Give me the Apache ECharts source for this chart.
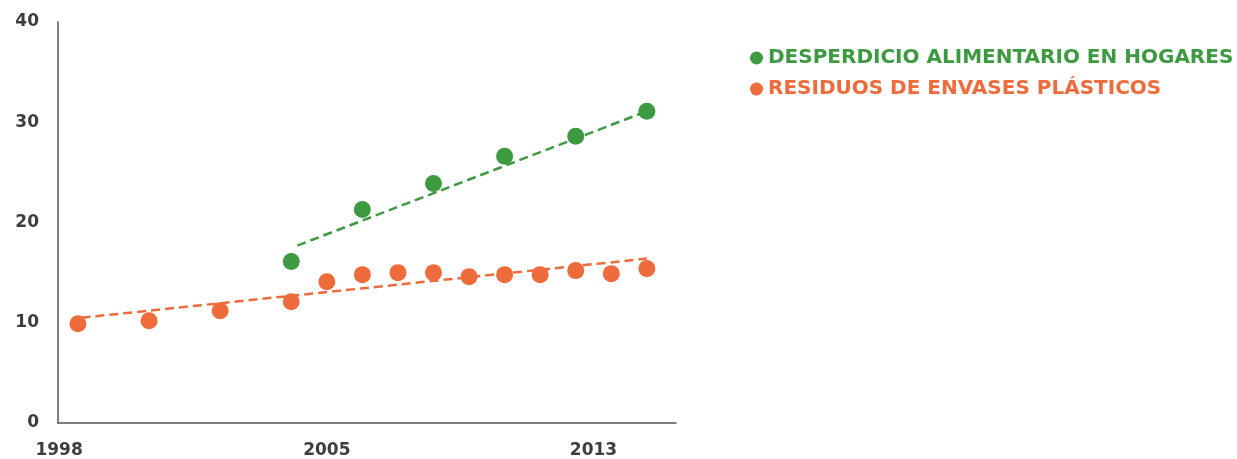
<!DOCTYPE html>
<html>
<head>
<meta charset="utf-8">
<script src="https://cdn.jsdelivr.net/npm/echarts@6/dist/echarts.min.js"></script>
<style>html,body{margin:0;padding:0;background:#fff}#c{width:1237px;height:459px}</style>
</head>
<body>
<div id="c"></div>
<script>
const foodYears = [2004, 2006, 2008, 2010, 2012, 2014];
const foodValues = [16.1, 21.3, 23.9, 26.6, 28.6, 31.1];
const plasticYears = [1998, 2000, 2002, 2004, 2005, 2006, 2007, 2008, 2009, 2010, 2011, 2012, 2013, 2014];
const plasticValues = [9.9, 10.2, 11.2, 12.1, 14.1, 14.8, 15.0, 15.0, 14.6, 14.8, 14.8, 15.2, 14.9, 15.4];
const foodTrend = [[2004.17, 17.7], [2014.0, 31.1]];
const plasticTrend = [[1998.1, 10.5], [2014.0, 16.4]];
const xTickValues = [1997.47, 2005, 2012.5];
const xTickLabels = ['1998', '2005', '2013'];
const yTicks = [0, 10, 20, 30, 40];
const seriesNames = ['DESPERDICIO ALIMENTARIO EN HOGARES', 'RESIDUOS DE ENVASES PLÁSTICOS'];

const GREEN = '#3d9a41';
const ORANGE = '#ee6b3b';
const FONT = 'DejaVu Sans';

const chart = echarts.init(document.getElementById('c'));
chart.setOption({
  animation: false,
  backgroundColor: '#fff',
  grid: { left: 58, right: 561, top: 22, bottom: 36, containLabel: false },
  xAxis: {
    type: 'value', min: 1997.44, max: 2014.82,
    axisLine: { show: true, lineStyle: { color: '#555', width: 1.5 } },
    axisTick: { show: false },
    splitLine: { show: false },
    axisLabel: {
      customValues: xTickValues,
      formatter: v => { const i = xTickValues.findIndex(t => Math.abs(t - v) < 1e-6); return i >= 0 ? xTickLabels[i] : ''; },
      color: '#3d3d3d', fontFamily: FONT, fontWeight: 'bold', fontSize: 17, margin: 19,
      showMinLabel: true, showMaxLabel: true
    }
  },
  yAxis: {
    type: 'value', min: yTicks[0], max: yTicks[yTicks.length - 1], interval: 10,
    axisLine: { show: true, lineStyle: { color: '#555', width: 1.5 } },
    axisTick: { show: false },
    splitLine: { show: false },
    axisLabel: { color: '#3d3d3d', fontFamily: FONT, fontWeight: 'bold', fontSize: 17, margin: 19 }
  },
  legend: {
    left: 745, top: 43, orient: 'vertical', itemGap: 11,
    icon: 'circle', itemWidth: 13, itemHeight: 13,
    textStyle: { fontFamily: FONT, fontWeight: 'bold', fontSize: 20 },
    data: [
      { name: seriesNames[0], textStyle: { color: GREEN } },
      { name: seriesNames[1], textStyle: { color: ORANGE } }
    ]
  },
  series: [
    {
      name: seriesNames[0], type: 'scatter', symbolSize: 17, z: 3,
      itemStyle: { color: GREEN, opacity: 1 },
      data: foodYears.map((y, i) => [y, foodValues[i]])
    },
    {
      name: seriesNames[1], type: 'scatter', symbolSize: 17, z: 3,
      itemStyle: { color: ORANGE, opacity: 1 },
      data: plasticYears.map((y, i) => [y, plasticValues[i]])
    },
    {
      type: 'line', data: foodTrend, showSymbol: false, symbol: 'none', z: 2,
      lineStyle: { color: GREEN, width: 2.5, type: [9, 5] }, silent: true
    },
    {
      type: 'line', data: plasticTrend, showSymbol: false, symbol: 'none', z: 2,
      lineStyle: { color: ORANGE, width: 2.5, type: [9, 5] }, silent: true
    }
  ]
});
</script>
</body>
</html>
